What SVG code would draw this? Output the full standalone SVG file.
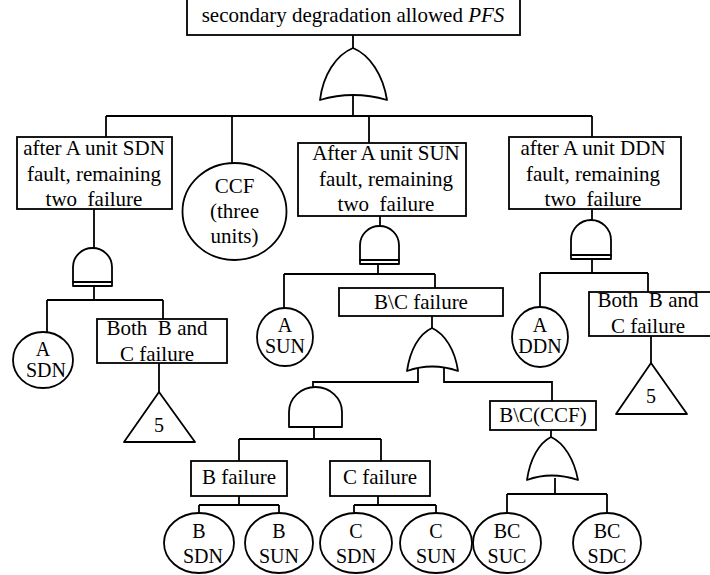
<svg xmlns="http://www.w3.org/2000/svg" width="710" height="575" viewBox="0 0 710 575" font-family="'Liberation Serif', 'DejaVu Serif', 'Times New Roman', serif">
  <style>
    .box { fill: #fff; stroke: #000; stroke-width: 1.8; }
    .gate { fill: #fff; stroke: #000; stroke-width: 1.8; stroke-linejoin: round; }
    .wire { fill: none; stroke: #000; stroke-width: 1.8; }
    .t { font-family: 'Liberation Serif', 'DejaVu Serif', 'Times New Roman', serif; font-size: 21px; fill: #000; text-anchor: middle; white-space: pre; }
    .sm { font-size: 20px; }
  </style>
  <rect width="710" height="575" fill="#fff"/>

  <!-- connectors -->
  <g id="connectors" class="wire">
    <path d="M353,35 V48 M353,96 V116 M106,116 H592 M106,116 V137 M232,116 V163 M369,116 V143 M592,116 V137"/>
    <path d="M94,209 V248 M94,286 V300 M47,300 H163 M47,300 V332 M163,300 V319 M159,363 V392"/>
    <path d="M380,216 V226 M378,264 V274 M284,274 H435 M284,274 V308 M435,274 V288"/>
    <path d="M592,209 V220 M592,259 V273 M540,273 H648 M540,273 V307 M648,273 V292 M651,336 V363"/>
    <path d="M432,316 V328 M418,368 V382 H313 V387 M444,368 V382 H552 V401"/>
    <path d="M314,427 V439 M239,439 H381 M239,439 V461 M381,439 V461"/>
    <path d="M239,496 V505 M199,505 H279 M199,505 V513 M279,505 V513"/>
    <path d="M378,496 V505 M354,505 H436 M354,505 V513 M436,505 V513"/>
    <path d="M551,430 V437 M555,478 V494 M507,494 H607 M507,494 V513 M607,494 V513"/>
  </g>

  <!-- top event -->
  <g id="top-event">
    <rect class="box" x="187" y="-5" width="333" height="40"/>
    <text class="t" x="353" y="22">secondary degradation allowed <tspan font-style="italic">PFS</tspan></text>
  </g>
  <g id="or-top">
    <path class="gate" d="M353,48 C370,55 383,75 387,100 Q353,90 320,100 C323,75 336,55 353,48 Z"/>
  </g>

  <!-- first level -->
  <g id="after-sdn">
    <rect class="box" x="17" y="137" width="155" height="72"/>
    <text class="t" x="94" y="155">after A unit SDN</text>
    <text class="t" x="94" y="181">fault, remaining</text>
    <text class="t" x="94" y="206" xml:space="preserve">two  failure</text>
  </g>
  <g id="ccf-three">
    <ellipse class="box" cx="234.5" cy="211.5" rx="52" ry="48.5"/>
    <text class="t" x="234.5" y="193">CCF</text>
    <text class="t" x="234.5" y="218">(three</text>
    <text class="t" x="234.5" y="243">units)</text>
  </g>
  <g id="after-sun">
    <rect class="box" x="298" y="143" width="168" height="73"/>
    <text class="t" x="386" y="160">After A unit SUN</text>
    <text class="t" x="386" y="186">fault, remaining</text>
    <text class="t" x="386" y="211" xml:space="preserve">two  failure</text>
  </g>
  <g id="after-ddn">
    <rect class="box" x="509" y="137" width="172" height="72"/>
    <text class="t" x="593" y="155">after A unit DDN</text>
    <text class="t" x="593" y="181">fault, remaining</text>
    <text class="t" x="593" y="206" xml:space="preserve">two  failure</text>
  </g>

  <!-- AND gates under the first level -->
  <g id="and-sdn">
    <path class="gate" d="M73,282 V267 A19.5,19 0 0 1 112,267 V282 Z"/>
    <rect class="gate" x="73" y="282" width="39" height="4"/>
  </g>
  <g id="and-sun">
    <path class="gate" d="M360,260 V245 A19.5,19 0 0 1 399,245 V260 Z"/>
    <rect class="gate" x="360" y="260" width="39" height="4"/>
  </g>
  <g id="and-ddn">
    <path class="gate" d="M571,255 V240 A20,20 0 0 1 611,240 V255 Z"/>
    <rect class="gate" x="571" y="255" width="40" height="4"/>
  </g>

  <!-- SDN branch -->
  <g id="a-sdn">
    <ellipse class="box" cx="43" cy="360" rx="30" ry="28"/>
    <text class="t sm" x="43" y="356">A</text>
    <text class="t sm" x="46" y="377">SDN</text>
  </g>
  <g id="both-bc-left">
    <rect class="box" x="97" y="319" width="130" height="44"/>
    <text class="t" x="157" y="335" xml:space="preserve">Both  B and</text>
    <text class="t" x="157" y="361">C failure</text>
  </g>
  <g id="transfer-left">
    <polygon class="gate" points="159,392 124,442 195,442"/>
    <text class="t sm" x="159" y="432">5</text>
  </g>

  <!-- SUN branch -->
  <g id="a-sun">
    <ellipse class="box" cx="285" cy="337" rx="28" ry="29"/>
    <text class="t sm" x="285" y="332">A</text>
    <text class="t sm" x="285" y="353">SUN</text>
  </g>
  <g id="bc-failure">
    <rect class="box" x="339" y="288" width="164" height="28"/>
    <text class="t" x="421" y="309">B\C failure</text>
  </g>
  <g id="or-bc">
    <path class="gate" d="M432,328 C445,334 455,350 458,371 Q432,362 407,371 C410,350 419,334 432,328 Z"/>
  </g>
  <g id="and-bc">
    <path class="gate" d="M289,427 V412 A26.5,25 0 0 1 342,412 V427 Z"/>
  </g>
  <g id="b-failure">
    <rect class="box" x="191" y="461" width="96" height="35"/>
    <text class="t" x="239" y="484">B failure</text>
  </g>
  <g id="c-failure">
    <rect class="box" x="330" y="461" width="100" height="35"/>
    <text class="t" x="380" y="484">C failure</text>
  </g>
  <g id="bc-ccf">
    <rect class="box" x="490" y="401" width="106" height="29"/>
    <text class="t" x="543" y="422">B\C(CCF)</text>
  </g>
  <g id="or-ccf">
    <path class="gate" d="M551,437 C564,443 574,459 578,480 Q551,471 527,480 C530,459 539,443 551,437 Z"/>
  </g>

  <!-- basic events -->
  <g id="b-sdn">
    <ellipse class="box" cx="199" cy="543" rx="35" ry="30"/>
    <text class="t sm" x="199" y="538">B</text>
    <text class="t sm" x="203" y="563">SDN</text>
  </g>
  <g id="b-sun">
    <ellipse class="box" cx="279" cy="543" rx="34" ry="30"/>
    <text class="t sm" x="279" y="538">B</text>
    <text class="t sm" x="279" y="563">SUN</text>
  </g>
  <g id="c-sdn">
    <ellipse class="box" cx="356" cy="543" rx="36" ry="30"/>
    <text class="t sm" x="356" y="538">C</text>
    <text class="t sm" x="356" y="563">SDN</text>
  </g>
  <g id="c-sun">
    <ellipse class="box" cx="436" cy="543" rx="36" ry="30"/>
    <text class="t sm" x="436" y="538">C</text>
    <text class="t sm" x="436" y="563">SUN</text>
  </g>
  <g id="bc-suc">
    <ellipse class="box" cx="507" cy="543" rx="34" ry="30"/>
    <text class="t sm" x="507" y="538">BC</text>
    <text class="t sm" x="507" y="563">SUC</text>
  </g>
  <g id="bc-sdc">
    <ellipse class="box" cx="607" cy="543" rx="34" ry="30"/>
    <text class="t sm" x="607" y="538">BC</text>
    <text class="t sm" x="607" y="563">SDC</text>
  </g>

  <!-- DDN branch -->
  <g id="a-ddn">
    <ellipse class="box" cx="540" cy="337" rx="28" ry="30"/>
    <text class="t sm" x="540" y="332">A</text>
    <text class="t sm" x="540" y="353">DDN</text>
  </g>
  <g id="both-bc-right">
    <rect class="box" x="589" y="292" width="130" height="44"/>
    <text class="t" x="648" y="307" xml:space="preserve">Both  B and</text>
    <text class="t" x="648" y="333">C failure</text>
  </g>
  <g id="transfer-right">
    <polygon class="gate" points="651,363 616,414 687,414"/>
    <text class="t sm" x="651" y="403">5</text>
  </g>
</svg>
